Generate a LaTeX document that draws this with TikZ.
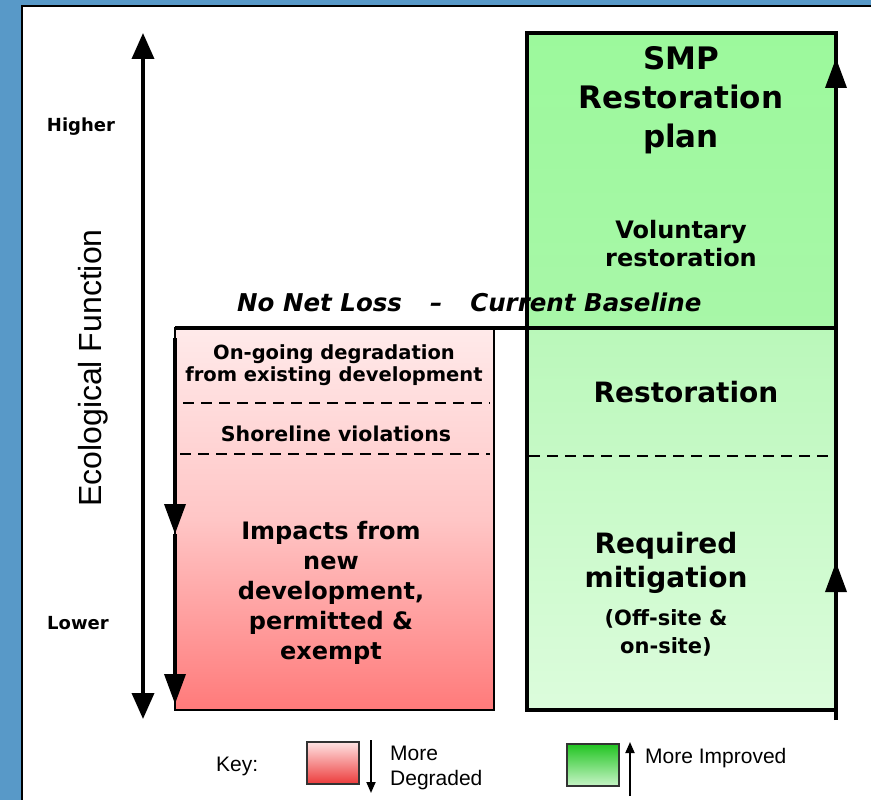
\documentclass[tikz,border=0pt]{standalone}
\usepackage{fontspec}
\setmainfont{DejaVu Sans}
\newfontfamily\arialf{Liberation Sans}
\usetikzlibrary{arrows.meta}
\definecolor{bgblue}{RGB}{88,153,200}
\definecolor{redtop}{RGB}{255,234,234}
\definecolor{redmid}{RGB}{255,198,198}
\definecolor{redbot}{RGB}{255,122,122}
\definecolor{gtopA}{RGB}{156,249,156}
\definecolor{gtopB}{RGB}{168,247,168}
\definecolor{gbotA}{RGB}{186,248,186}
\definecolor{gbotB}{RGB}{220,252,220}
\definecolor{kredtop}{RGB}{255,226,226}
\definecolor{kredbot}{RGB}{236,58,58}
\definecolor{kgrtop}{RGB}{34,196,34}
\definecolor{kgrbot}{RGB}{200,245,200}
\tikzset{
  bigtip/.style={line width=3.6pt,-{Triangle[width=22pt,length=26pt]}},
  boxtip/.style={line width=3.6pt,-{Triangle[width=21pt,length=30pt]}},
  keytip/.style={line width=1.8pt,-{Triangle[width=9pt,length=11pt]}},
  dashline/.style={line width=2.8pt,dash pattern=on 11pt off 7pt},
  region/.style={anchor=north west,inner sep=0pt,outer sep=0pt},
  lbl/.style={inner sep=0pt,align=center,text=black},
  swatch/.style={draw=black!80,line width=2.4pt,anchor=north west,inner sep=0pt,minimum width=52pt,minimum height=42pt},
  keytext/.style={inner sep=0pt,anchor=west,font=\arialf\fontsize{21}{25}\selectfont}
}
\begin{document}
\begin{tikzpicture}[x=1pt,y=-1pt]
\useasboundingbox (0,0) rectangle (871,800);
\fill[bgblue] (0,0) rectangle (871,800);
\path[fill=white,draw=black,line width=2pt] (22,6) rectangle (880,810);

% axis
\coordinate (axBot) at (143,719);
\coordinate (axTop) at (143,33);
\coordinate (axMid) at (143,376);
\draw[bigtip] (axMid) -- (axBot);
\draw[bigtip] (axMid) -- (axTop);
\node[lbl,font=\bfseries\fontsize{18}{20}\selectfont] (higher) at (81,127) {Higher};
\node[lbl,font=\bfseries\fontsize{18}{20}\selectfont] (lower) at (78,623) {Lower};
\node[lbl,rotate=90,font=\arialf\fontsize{32}{36}\selectfont] (eco) at (93,368) {Ecological Function};

% red box
\node[region,minimum width=319pt,minimum height=382pt,draw=black,line width=2.6pt,
  top color=redtop,bottom color=redbot,middle color=redmid] (red) at (175,328) {};
% green box
\node[region,minimum width=309pt,minimum height=295pt,top color=gtopA,bottom color=gtopB] (gtop) at (527,33) {};
\node[region,minimum width=309pt,minimum height=382pt,top color=gbotA,bottom color=gbotB] (gbot) at (527,328) {};
\node[region,minimum width=309pt,minimum height=677pt,draw=black,line width=3.6pt] (green) at (527,33) {};

% baseline line
\coordinate (blL) at (175,328);
\coordinate (blR) at (836,328);
\draw[line width=3.2pt] (blL) -- (blR);

% dashed lines
\coordinate (d1a) at (183,403); \coordinate (d1b) at (490,403);
\coordinate (d2a) at (180,454); \coordinate (d2b) at (490,454);
\coordinate (d3a) at (529,456); \coordinate (d3b) at (834,456);
\draw[dashline] (d1a) -- (d1b);
\draw[dashline] (d2a) -- (d2b);
\draw[dashline] (d3a) -- (d3b);

% red-box arrow
\coordinate (raTop) at (175,338);
\coordinate (raMid) at (175,534);
\coordinate (raBot) at (175,704);
\draw[boxtip] (raTop) -- (raMid);
\draw[boxtip] (raMid) -- (raBot);

% green-box arrow
\coordinate (gaBot) at (836,720);
\coordinate (gaMid) at (836,562);
\coordinate (gaTop) at (836,58);
\draw[boxtip] (gaBot) -- (gaMid);
\draw[boxtip] (gaMid) -- (gaTop);

% texts
\node[lbl,font=\bfseries\fontsize{31}{39}\selectfont] (smp) at (681,100) {SMP\\Restoration\\plan};
\node[lbl,font=\bfseries\fontsize{24}{28}\selectfont] (vol) at (681,244) {Voluntary\\restoration};
\node[lbl,font=\bfseries\fontsize{28}{32}\selectfont] (rest) at (686,392) {Restoration};
\node[lbl,font=\bfseries\fontsize{28}{34}\selectfont] (req) at (666,563) {Required\\mitigation};
\node[lbl,font=\bfseries\fontsize{21}{28}\selectfont] (off) at (666,633) {(Off-site \&\\on-site)};
\node[lbl,font=\bfseries\fontsize{19.5}{22}\selectfont] (ongo) at (334,365) {On-going degradation\\from existing development};
\node[lbl,font=\bfseries\fontsize{20.5}{24}\selectfont] (shore) at (336,434) {Shoreline violations};
\node[lbl,font=\bfseries\fontsize{24}{30}\selectfont] (imp) at (331,593) {Impacts from\\new\\development,\\permitted \&\\exempt};
\node[lbl,anchor=west,font=\bfseries\itshape\fontsize{24.5}{28}\selectfont] (nnl) at (237,302) {No Net Loss\hspace{28pt}–\hspace{28pt}Current Baseline};

% key
\node[keytext] (key) at (216,766) {Key:};
\node[swatch,top color=kredtop,bottom color=kredbot] (kred) at (306,741) {};
\coordinate (kdTop) at (371,740);
\coordinate (kdBot) at (371,793);
\draw[keytip] (kdTop) -- (kdBot);
\node[keytext,align=left,font=\arialf\fontsize{21}{25}\selectfont] (kdeg) at (390,768) {More\\Degraded};
\node[swatch,top color=kgrtop,bottom color=kgrbot] (kgr) at (566,743) {};
\coordinate (kuBot) at (630,796);
\coordinate (kuTop) at (630,742);
\draw[keytip] (kuBot) -- (kuTop);
\node[keytext] (kimp) at (645,758) {More Improved};
\end{tikzpicture}
\end{document}
